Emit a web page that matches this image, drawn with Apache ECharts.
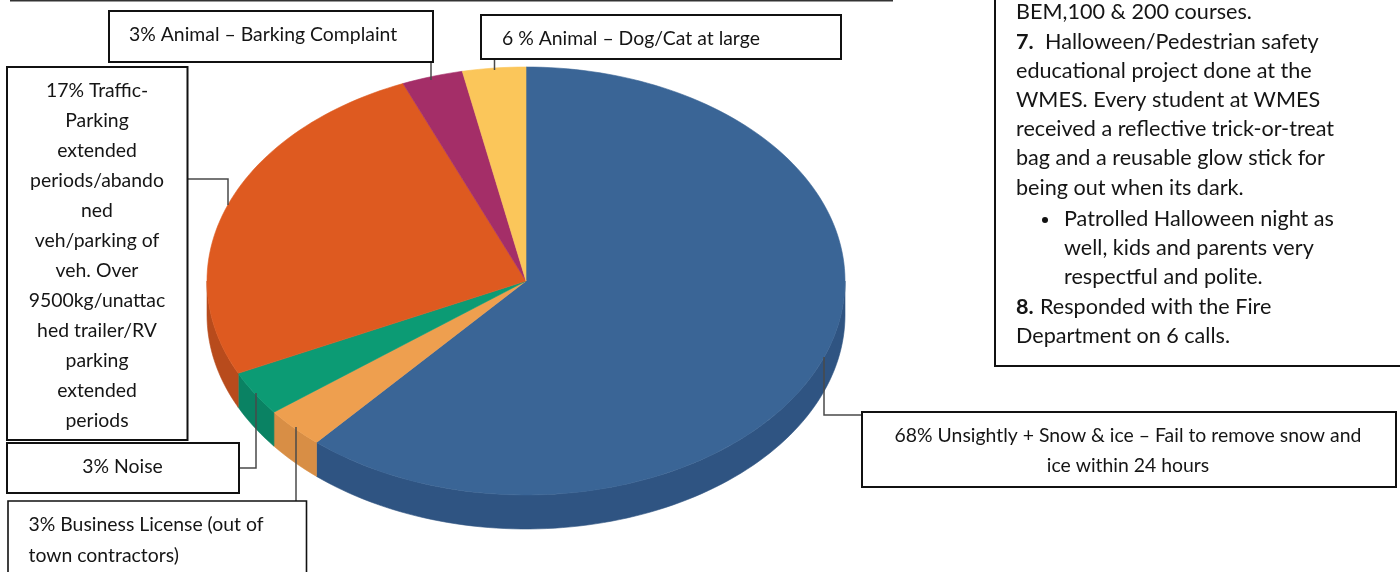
<!DOCTYPE html>
<html><head><meta charset="utf-8">
<style>html,body{margin:0;padding:0;background:#fff}#c{width:1400px;height:572px}</style>
<script src="https://cdn.jsdelivr.net/npm/echarts@6/dist/echarts.min.js"></script>
</head><body><div id="c"></div>
<script>
// Slice data, clockwise from 12 o'clock, as drawn in the picture
const sliceNames = ['Unsightly + Snow & ice','Business License','Noise','Traffic-Parking','Animal – Barking Complaint','Animal – Dog/Cat at large'];
const sliceShares = [61.4, 3.1, 3.4, 25.8, 3.1, 3.2];
const sliceColors = ['#3A6596','#EE9F4F','#0C9B74','#DE5A20','#A42E68','#FBC65A'];
const wallColors  = ['#2F5482','#D88E45','#0A8263','#B84B1C','#8A2656','#D8A94C'];

const barkingLines = ['3% Animal – Barking Complaint'];
const dogCatLines = ['6 % Animal – Dog/Cat at large'];
const trafficLines = ['17% Traffic-','Parking','extended','periods/abando','ned','veh/parking of','veh. Over','9500kg/unattac','hed trailer/RV','parking','extended','periods'];
const noiseLines = ['3% Noise'];
const businessLines = ['3% Business License (out of','town contractors)'];
const unsightlyLines = ['68% Unsightly + Snow & ice – Fail to remove snow and','ice within 24 hours'];
const notesLines = ['BEM,100 & 200 courses.','Halloween/Pedestrian safety','educational project done at the','WMES. Every student at WMES','received a reflective trick-or-treat','bag and a reusable glow stick for','being out when its dark.','Patrolled Halloween night as','well, kids and parents very','respectful and polite.','Responded with the Fire','Department on 6 calls.'];

const FONT = 'Lato, "Open Sans", sans-serif';
const FS = 19.4, NOTE_FS = 21.6;
const CX = 526, CY = 281, RX = 319, RY = 214, DEPTH = 34;

const total = sliceShares.reduce((a,b)=>a+b,0);
function pt(deg, dy){ const r = deg*Math.PI/180; return [CX+RX*Math.sin(r), CY-RY*Math.cos(r)+(dy||0)]; }
function angles(i){ let s=0; for(let k=0;k<i;k++) s+=sliceShares[k]; return [s/total*360,(s+sliceShares[i])/total*360]; }
function arc(a,b,dy){ const out=[]; const n=Math.max(2,Math.ceil((b-a)/1.5)); for(let k=0;k<=n;k++) out.push(pt(a+(b-a)*k/n,dy)); return out; }

const chart = echarts.init(document.getElementById('c'), null, {renderer:'canvas'});
const seriesData = sliceShares.map((v,i)=>({name:sliceNames[i],value:[i,v]}));

const gfx = [];
function box(x,y,w,h,lw){ gfx.push({type:'rect',shape:{x,y,width:w,height:h},style:{fill:'#fff',stroke:'#111',lineWidth:lw||1.6},z:20}); }
function txt(t,x,y,align,bold,size){ gfx.push({type:'text',x,y,z:21,style:{text:t,fill:'#151515',font:(bold?'bold ':'')+(size||FS)+'px '+FONT,align:align||'left',verticalAlign:'middle'}}); }
function lead(points){ gfx.push({type:'polyline',shape:{points},style:{stroke:'#4a4a4a',lineWidth:1.5,fill:null},z:19}); }

lead([[431,62],[431,80]]);
lead([[494.5,59],[494.5,70]]);
lead([[187,179],[228,179],[228,205]]);
lead([[239,468],[256,468],[256,393]]);
lead([[296,501],[296,427]]);
lead([[862,415],[824,415],[824,357]]);

gfx.push({type:'line',shape:{x1:10,y1:0.5,x2:893,y2:0.5},style:{stroke:'#333',lineWidth:2},z:20});

box(109,11,324,51,2); txt(barkingLines[0],129,35);
box(481,15,360,44,2); txt(dogCatLines[0],502,39);
box(7,67,180.5,373,2);
trafficLines.forEach((t,i)=>txt(t,97,91+i*30,'center'));
box(7,443,232,50,2); txt(noiseLines[0],122.5,467,'center');
box(8,501,298.5,90,1.6);
businessLines.forEach((t,i)=>txt(t,28.5,525+i*31));
box(862,412,534,75,2);
unsightlyLines.forEach((t,i)=>txt(t,1128,436+i*30,'center'));

box(995,-20,430,386,2);
const noteY = [12,42,71,100,129,158,188,219,248,277,307,336];
const noteX = [1016,1045,1016,1016,1016,1016,1016,1064,1064,1064,1040,1016];
notesLines.forEach((t,i)=>txt(t,noteX[i],noteY[i],'left',false,NOTE_FS));
txt('7.',1016,42,'left',true,NOTE_FS);
txt('8.',1016,307,'left',true,NOTE_FS);
gfx.push({type:'circle',shape:{cx:1045,cy:220,r:3},style:{fill:'#111'},z:21});

chart.setOption({
  animation:false,
  backgroundColor:'#fff',
  xAxis:{show:false}, yAxis:{show:false},
  grid:{left:0,right:0,top:0,bottom:0},
  graphic:{elements:gfx},
  series:[
    {type:'custom',name:'wall',coordinateSystem:'none',z:2,silent:true,data:seriesData,
     renderItem(params,api){
       const i=api.value(0); const [a,b]=angles(i);
       const s=Math.max(a,90), e=Math.min(b,270);
       if(e<=s) return {type:'group',children:[]};
       const pts=arc(s,e,0).concat(arc(s,e,DEPTH).reverse());
       return {type:'polygon',shape:{points:pts},style:{fill:wallColors[i],stroke:wallColors[i],lineWidth:0.6}};
     }},
    {type:'custom',name:'top',coordinateSystem:'none',z:3,silent:true,data:seriesData,
     renderItem(params,api){
       const i=api.value(0); const [a,b]=angles(i);
       const pts=[[CX,CY]].concat(arc(a,b,0));
       return {type:'polygon',shape:{points:pts},style:{fill:sliceColors[i],stroke:sliceColors[i],lineWidth:0.6}};
     }}
  ]
});
</script></body></html>
